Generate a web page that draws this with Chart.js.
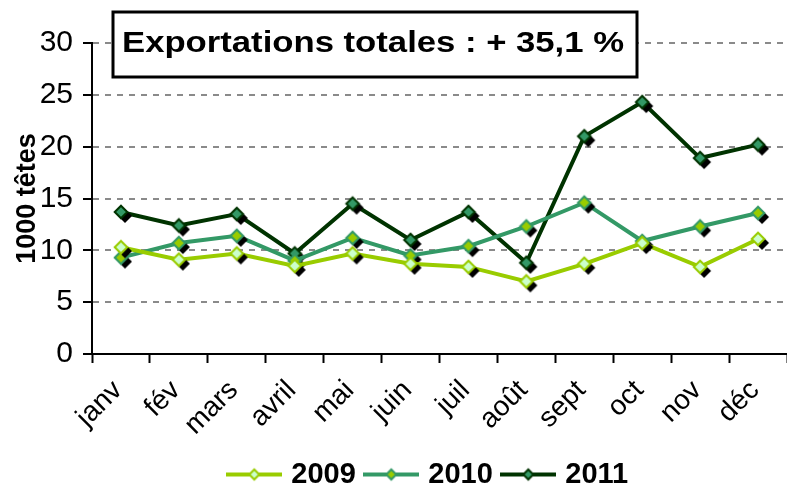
<!DOCTYPE html>
<html><head><meta charset="utf-8">
<script src="https://cdn.jsdelivr.net/npm/chart.js@4/dist/chart.umd.min.js"></script>
<style>html,body{margin:0;padding:0;background:#fff;overflow:hidden}#wrap{width:787px;height:488px}</style>
</head><body><div id="wrap"><canvas id="c" width="787" height="488"></canvas></div>
<script>
const months = ['janv','fév','mars','avril','mai','juin','juil','août','sept','oct','nov','déc'];
const v2009 = [10.3, 9.1, 9.7, 8.5, 9.7, 8.7, 8.4, 7.0, 8.7, 10.7, 8.4, 11.1];
const v2010 = [9.3, 10.7, 11.4, 9.0, 11.2, 9.5, 10.4, 12.3, 14.6, 10.9, 12.3, 13.6];
const v2011 = [13.7, 12.4, 13.5, 9.7, 14.5, 11.0, 13.7, 8.8, 21.0, 24.3, 18.9, 20.2];
const seriesNames = ['2009','2010','2011'];
const yTicks = [0, 5, 10, 15, 20, 25, 30];
const titleText = 'Exportations totales : + 35,1 %';
const yTitle = '1000 têtes';

const FONT = "'Liberation Sans', Arial, sans-serif";
const LINE = ['#99cc00', '#339966', '#003300'];
const FILL = ['#ccffcc', '#99cc00', '#339966'];

function diamond(g, x, y, r) {
  g.beginPath(); g.moveTo(x, y - r); g.lineTo(x + r, y); g.lineTo(x, y + r); g.lineTo(x - r, y); g.closePath();
}
function markerImg(fill, stroke) {
  const c = document.createElement('canvas'); c.width = 28; c.height = 28;
  const g = c.getContext('2d');
  diamond(g, 18, 18, 7); g.fillStyle = '#000'; g.fill();
  diamond(g, 14, 14, 6.3); g.fillStyle = fill; g.fill();
  g.lineWidth = 2; g.strokeStyle = stroke; g.stroke();
  return c;
}
function legendImg(line, fill, stroke) {
  const c = document.createElement('canvas'); c.width = 56; c.height = 16;
  const g = c.getContext('2d');
  g.beginPath(); g.moveTo(0, 8); g.lineTo(56, 8); g.lineWidth = 4; g.strokeStyle = line; g.stroke();
  diamond(g, 28, 8, 5); g.fillStyle = fill; g.fill(); g.lineWidth = 2; g.strokeStyle = stroke; g.stroke();
  return c;
}
const values = [v2009, v2010, v2011];
const datasets = values.map((v, i) => ({
  label: seriesNames[i], data: v, borderColor: LINE[i], backgroundColor: FILL[i],
  borderWidth: 4, tension: 0, pointRadius: 7,
  pointStyle: markerImg(FILL[i], LINE[i]),
  legendStyle: legendImg(LINE[i], FILL[i], LINE[i])
}));
const titleBox = {
  id: 'titleBox',
  afterDraw(chart) {
    const g = chart.ctx, a = chart.chartArea;
    const x = a.left + 21, y = a.top - 31, w = 524, h = 65;
    g.save();
    g.fillStyle = '#fff'; g.fillRect(x, y, w, h);
    g.lineWidth = 3; g.strokeStyle = '#000'; g.strokeRect(x, y, w, h);
    g.fillStyle = '#000'; g.font = "bold 30px " + FONT;
    g.textAlign = 'left'; g.textBaseline = 'alphabetic';
    const tw = g.measureText(titleText).width;
    const sx = 502 / tw;
    g.translate(x + 9, y + 40);
    g.scale(sx, 1);
    g.fillText(titleText, 0, 0);
    g.restore();
  }
};
const legendShift = {
  id: 'legendShift',
  afterLayout(chart) {
    const L = chart.legend;
    const dx = 430 - (L.left + L.right) / 2;
    L.left += dx; L.right += dx; L.top -= 11; L.bottom = chart.height; L.height = L.bottom - L.top;
  }
};
new Chart(document.getElementById('c'), {
  type: 'line',
  data: { labels: months, datasets },
  options: {
    responsive: false, animation: false, events: [],
    layout: { autoPadding: false, padding: { top: 43, left: 0, right: -2, bottom: 0 } },
    plugins: {
      tooltip: { enabled: false },
      legend: {
        position: 'bottom', maxHeight: 30,
        labels: {
          usePointStyle: true, pointStyleWidth: 45, color: '#000', padding: 13,
          font: { family: FONT, size: 29, weight: 'bold' },
          generateLabels(chart) {
            return chart.data.datasets.map((d, i) => ({
              text: d.label, pointStyle: d.legendStyle, datasetIndex: i, hidden: false,
              fillStyle: d.backgroundColor, strokeStyle: d.borderColor, lineWidth: 0, fontColor: '#000'
            }));
          }
        }
      }
    },
    scales: {
      x: {
        offset: true,
        afterFit(s) { s.height = 104; s.paddingLeft = 0; s.paddingRight = 0; },
        grid: { drawOnChartArea: false, drawTicks: true, tickLength: 9, tickColor: '#000', tickWidth: 2, offset: true },
        border: { color: '#000', width: 2 },
        ticks: { minRotation: 45, maxRotation: 45, color: '#000', padding: 11, labelOffset: -3, font: { family: FONT, size: 28 } }
      },
      y: {
        min: 0, max: 30,
        afterFit(s) { s.width = 92; },
        afterBuildTicks(axis) { axis.ticks = yTicks.map(v => ({ value: v })); },
        grid: { color: '#8a8a8a', lineWidth: 2, tickColor: '#000', tickWidth: 2, tickLength: 9 },
        border: { color: '#000', width: 2, dash: [6, 6] },
        ticks: { color: '#000', padding: 10, font: { family: FONT, size: 30 } },
        title: { display: true, text: yTitle, color: '#000', padding: { top: 11, bottom: 0 }, font: { family: FONT, size: 27, weight: 'bold' } }
      }
    }
  },
  plugins: [titleBox, legendShift]
});
</script></body></html>
